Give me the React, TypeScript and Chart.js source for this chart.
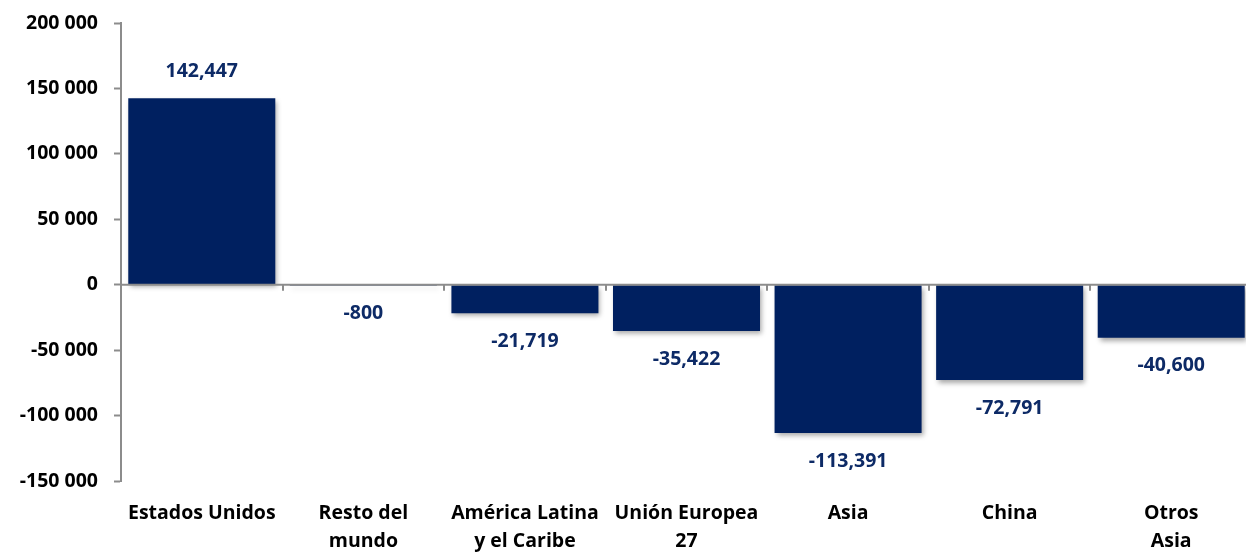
import React, { useEffect, useRef } from "react";
import { Chart, registerables } from "chart.js";

Chart.register(...registerables);

const categories: (string | string[])[] = [
  "Estados Unidos",
  ["Resto del", "mundo"],
  ["América Latina", "y el Caribe"],
  ["Unión Europea", "27"],
  "Asia",
  "China",
  ["Otros", "Asia"],
];
const values: number[] = [142447, -800, -21719, -35422, -113391, -72791, -40600];
const valueLabels: string[] = ["142,447", "-800", "-21,719", "-35,422", "-113,391", "-72,791", "-40,600"];
const yMin = -150000;
const yMax = 200000;
const yStep = 50000;

const BAR = "#002060";
const LABEL = "#0d2a66";
const AXIS = "#8c8c8c";
const FONT = "'Open Sans', Lato, sans-serif";
const FS = 19.5;

const shadowPlugin = {
  id: "barShadow",
  beforeDatasetsDraw(chart: any) {
    const ctx = chart.ctx;
    ctx.save();
    ctx.shadowColor = "rgba(0,0,0,0.35)";
    ctx.shadowBlur = 5;
    ctx.shadowOffsetX = 2;
    ctx.shadowOffsetY = 3;
  },
  afterDatasetsDraw(chart: any) {
    chart.ctx.restore();
  },
};

const overlayPlugin = {
  id: "overlay",
  afterDraw(chart: any) {
    const ctx = chart.ctx;
    const x = chart.scales.x;
    const y = chart.scales.y;
    const y0 = y.getPixelForValue(0);
    ctx.save();
    ctx.strokeStyle = AXIS;
    ctx.lineWidth = 2;
    ctx.beginPath();
    ctx.moveTo(chart.chartArea.left, y0);
    ctx.lineTo(chart.chartArea.right, y0);
    ctx.stroke();
    for (let i = 0; i < categories.length; i++) {
      const bx = Math.round((x.getPixelForValue(i) + x.getPixelForValue(i + 1)) / 2);
      ctx.beginPath();
      ctx.moveTo(bx, y0);
      ctx.lineTo(bx, y0 + 6);
      ctx.stroke();
    }
    const meta = chart.getDatasetMeta(0);
    ctx.fillStyle = LABEL;
    ctx.font = `bold ${FS}px ${FONT}`;
    ctx.textAlign = "center";
    ctx.textBaseline = "middle";
    meta.data.forEach((el: any, i: number) => {
      const v = values[i];
      const ly = v >= 0 ? el.y - 27 : el.y + 28;
      ctx.fillText(valueLabels[i], el.x, ly);
    });
    ctx.restore();
  },
};

export default function App() {
  const ref = useRef<HTMLCanvasElement | null>(null);
  useEffect(() => {
    if (!ref.current) return;
    const chart = new Chart(ref.current, {
      type: "bar",
      data: {
        labels: categories,
        datasets: [
          {
            data: values,
            backgroundColor: BAR,
            borderWidth: 0,
            barPercentage: 0.91,
            categoryPercentage: 1,
          },
        ],
      },
      options: {
        responsive: false,
        animation: false,
        devicePixelRatio: 1,
        layout: { padding: { top: 23, right: 1, left: 0, bottom: 0 } },
        plugins: { legend: { display: false }, tooltip: { enabled: false } },
        scales: {
          x: {
            grid: { display: false, drawTicks: false },
            border: { display: false },
            ticks: {
              autoSkip: false,
              maxRotation: 0,
              minRotation: 0,
              color: "#000",
              padding: 18,
              font: { family: FONT, size: FS, weight: "bold", lineHeight: 1.45 },
            },
            afterFit(scale: any) {
              scale.height = 71;
            },
          },
          y: {
            min: yMin,
            max: yMax,
            grid: {
              display: true,
              drawOnChartArea: false,
              drawTicks: true,
              tickLength: 7,
              tickColor: AXIS,
              tickWidth: 2,
            },
            border: { display: true, color: AXIS, width: 2 },
            ticks: {
              stepSize: yStep,
              color: "#000",
              padding: 16,
              font: { family: FONT, size: FS, weight: "bold" },
              callback: (v: any) => {
                const n = Number(v);
                const s = Math.abs(n).toString().replace(/\B(?=(\d{3})+(?!\d))/g, " ");
                return (n < 0 ? "-" : "") + s;
              },
            },
            afterFit(scale: any) {
              scale.width = 121;
              scale.paddingTop = 0;
              scale.paddingBottom = 0;
            },
          },
        },
      },
      plugins: [shadowPlugin, overlayPlugin],
    });
    return () => chart.destroy();
  }, []);
  return (
    <div style={{ position: "fixed", left: 0, top: 0, width: 1246, height: 552, overflow: "hidden", background: "#fff" }}>
      <canvas ref={ref} width={1253} height={552} style={{ display: "block", width: 1253, height: 552 }} />
    </div>
  );
}
